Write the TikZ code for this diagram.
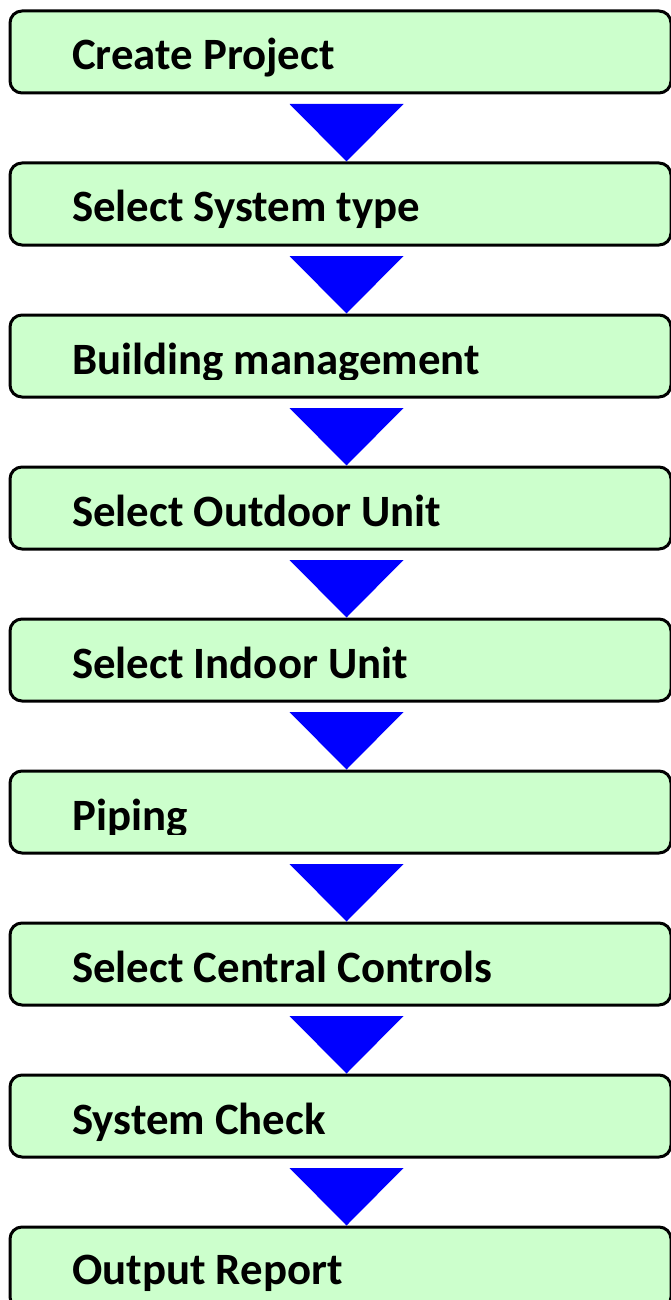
\documentclass[tikz,border=0pt]{standalone}
\usepackage{fontspec}
\setmainfont{Carlito}
\definecolor{boxgreen}{HTML}{CCFFCC}
\definecolor{triblue}{HTML}{0000FF}
\begin{document}
\begin{tikzpicture}[x=1pt,y=-1pt,
  box/.style={draw=black, line width=3pt, fill=boxgreen, rounded corners=12pt,
    minimum width=661pt, minimum height=82pt, anchor=north west, inner sep=0pt},
  lbl/.style={anchor=base west, inner sep=0pt, font=\fontsize{44.8}{50}\selectfont\bfseries},
  tri/.style={fill=triblue}]
\useasboundingbox (0,0) rectangle (671,1300);
\clip (0,0) rectangle (671,1300);
% boxes
\foreach \i in {1,...,9}{
  \node[box] (b\i) at (8.5,{9.5+152*(\i-1)}) {};
}
% labels
\node[lbl] (t1) at (72,70) {Create Project};
\node[lbl] (t2) at (72,222) {Select System type};
\begin{scope}
  \clip (60,300) rectangle (660,379);
  \node[lbl] (t3) at (72,374) {Building management};
\end{scope}
\node[lbl] (t4) at (72,526) {Select Outdoor Unit};
\node[lbl] (t5) at (72,678) {Select Indoor Unit};
\begin{scope}
  \clip (60,760) rectangle (660,834.5);
  \node[lbl] (t6) at (72,830) {Piping};
\end{scope}
\node[lbl] (t7) at (72,982) {Select Central Controls};
\node[lbl] (t8) at (72,1134) {System Check};
\node[lbl] (t9) at (72,1284) {Output Report};
% arrows (triangles)
\foreach \i [evaluate=\i as \j using int(\i+1)] in {1,...,8}{
  \fill[tri] ([xshift=-51pt,yshift=-9.5pt]b\i.south) --
             ([xshift=63pt,yshift=-9.5pt]b\i.south) --
             ([xshift=6pt]b\j.north) -- cycle;
}
\end{tikzpicture}
\end{document}
